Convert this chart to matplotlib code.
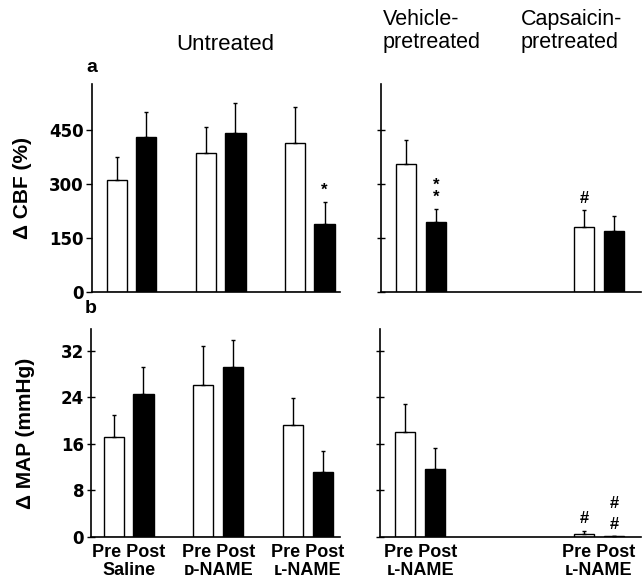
import numpy as np
import matplotlib
matplotlib.use("Agg")
import matplotlib.pyplot as plt

plt.rcParams['font.family'] = ['Liberation Sans', 'DejaVu Sans']

# untreated groups (left panels)
groups_left = ["Saline", "\u1d05-NAME", "\u029f-NAME"]
cbf_pre = [312, 386, 414]
cbf_pre_err = [63, 72, 100]
cbf_post = [430, 442, 188]
cbf_post_err = [69, 81, 62]
map_pre = [17.2, 26.1, 19.2]
map_pre_err = [3.8, 6.6, 4.6]
map_post = [24.6, 29.2, 11.1]
map_post_err = [4.6, 4.6, 3.6]

# pretreated groups (right panels): vehicle, capsaicin
groups_right = ["\u029f-NAME", "\u029f-NAME"]
cbf_pre_r = [355, 181]
cbf_pre_r_err = [68, 47]
cbf_post_r = [195, 169]
cbf_post_r_err = [36, 42]
map_pre_r = [18.0, 0.5]
map_pre_r_err = [4.9, 0.6]
map_post_r = [11.6, 0.12]
map_post_r_err = [3.6, 0.1]

# significance marks
cbf_marks_left = ["", "", "", "", "", "*"]
cbf_marks_right = ["", "*\n*", "#", ""]
map_marks_left = ["", "", "", "", "", ""]
map_marks_right = ["", "", "#", "#\n#"]

W, H = 643, 582
fig = plt.figure(figsize=(W / 100, H / 100), dpi=100)


def px_axes(x0, y0, x1, y1):
    return fig.add_axes([x0 / W, (H - y1) / H, (x1 - x0) / W, (y1 - y0) / H])


ax_a1 = px_axes(92, 84, 340, 292)
ax_a2 = px_axes(381, 84, 641, 292)
ax_b1 = px_axes(91, 329, 340, 537)
ax_b2 = px_axes(380, 329, 641, 537)

off = 0.166
bw = 0.225


def draw(ax, xpos, pre, pre_err, post, post_err, marks, labels, xlim):
    xpos = np.array(xpos, dtype=float)
    ek = dict(ecolor='black', elinewidth=1.0, capsize=1.6, capthick=1.0)
    ax.bar(xpos - off, pre, bw, color='white', edgecolor='black', linewidth=1.0,
           yerr=[np.zeros(len(pre)), pre_err], error_kw=ek, zorder=2)
    ax.bar(xpos + off, post, bw, color='black', edgecolor='black', linewidth=1.0,
           yerr=[np.zeros(len(post)), post_err], error_kw=ek, zorder=2)
    xs = np.ravel(np.column_stack([xpos - off, xpos + off]))
    tops = np.ravel(np.column_stack([np.add(pre, pre_err), np.add(post, post_err)]))
    for x, t, m in zip(xs, tops, marks):
        if m:
            ls = 1.5 if '#' in m else 0.75
            ax.annotate(m, (x, t), xytext=(0, 3), textcoords='offset points',
                        ha='center', va='bottom', fontsize=12, fontweight='bold',
                        linespacing=ls)
    ax.set_xlim(*xlim)
    ax.set_xticks(xpos)
    ax.set_xticklabels(["Pre Post\n" + g for g in labels])
    ax.tick_params(axis='x', length=0, pad=5, labelsize=13)
    for lab in ax.get_xticklabels():
        lab.set_fontweight('bold')
        lab.set_linespacing(1.1)
    for s in ['top', 'right']:
        ax.spines[s].set_visible(False)
    for s in ['left', 'bottom']:
        ax.spines[s].set_linewidth(1.2)


draw(ax_a1, [0, 1, 2], cbf_pre, cbf_pre_err, cbf_post, cbf_post_err,
     cbf_marks_left, groups_left, (-0.446, 2.34))
draw(ax_a2, [0, 2], cbf_pre_r, cbf_pre_r_err, cbf_post_r, cbf_post_r_err,
     cbf_marks_right, groups_right, (-0.45, 2.47))
draw(ax_b1, [0, 1, 2], map_pre, map_pre_err, map_post, map_post_err,
     map_marks_left, groups_left, (-0.42, 2.36))
draw(ax_b2, [0, 2], map_pre_r, map_pre_r_err, map_post_r, map_post_r_err,
     map_marks_right, groups_right, (-0.45, 2.47))

for ax in [ax_a1, ax_a2]:
    ax.set_ylim(0, 577)
    ax.set_yticks([0, 150, 300, 450])
for ax in [ax_b1, ax_b2]:
    ax.set_ylim(0, 35.7)
    ax.set_yticks([0, 8, 16, 24, 32])

for ax in [ax_a1, ax_b1]:
    ax.tick_params(axis='y', direction='out', length=4, width=1, pad=2)
    for lab in ax.get_yticklabels():
        lab.set_fontweight('bold')
        lab.set_fontfamily('DejaVu Sans')
        lab.set_fontsize(12)
for ax in [ax_a2, ax_b2]:
    ax.tick_params(axis='y', direction='inout', length=6, width=1, labelleft=False)
ax_a2.set_xticklabels([])
ax_a1.set_xticklabels([])
ax_b1.tick_params(axis='y', direction='inout', length=6)

ax_a1.set_ylabel("\u0394 CBF (%)", fontsize=15, fontweight='bold')
ax_b1.set_ylabel("\u0394 MAP (mmHg)", fontsize=15, fontweight='bold')
ax_a1.yaxis.set_label_coords(-0.24, 0.5)
ax_b1.yaxis.set_label_coords(-0.225, 0.5)

ax_a1.text(0.0, 1.04, "a", transform=ax_a1.transAxes, fontsize=14,
           fontweight='bold', ha='center', va='bottom')
ax_b1.text(0.0, 1.06, "b", transform=ax_b1.transAxes, fontsize=14,
           fontweight='bold', ha='center', va='bottom')

fig.text(225 / W, 1 - 45 / H, "Untreated", fontsize=16, ha='center', va='center')
fig.text(383 / W, 1 - 31 / H, "Vehicle-\npretreated", fontsize=15.5, ha='left',
         va='center', linespacing=1.1)
fig.text(521 / W, 1 - 31 / H, "Capsaicin-\npretreated", fontsize=15.5, ha='left',
         va='center', linespacing=1.1)

fig.savefig("out.png", dpi=100)
